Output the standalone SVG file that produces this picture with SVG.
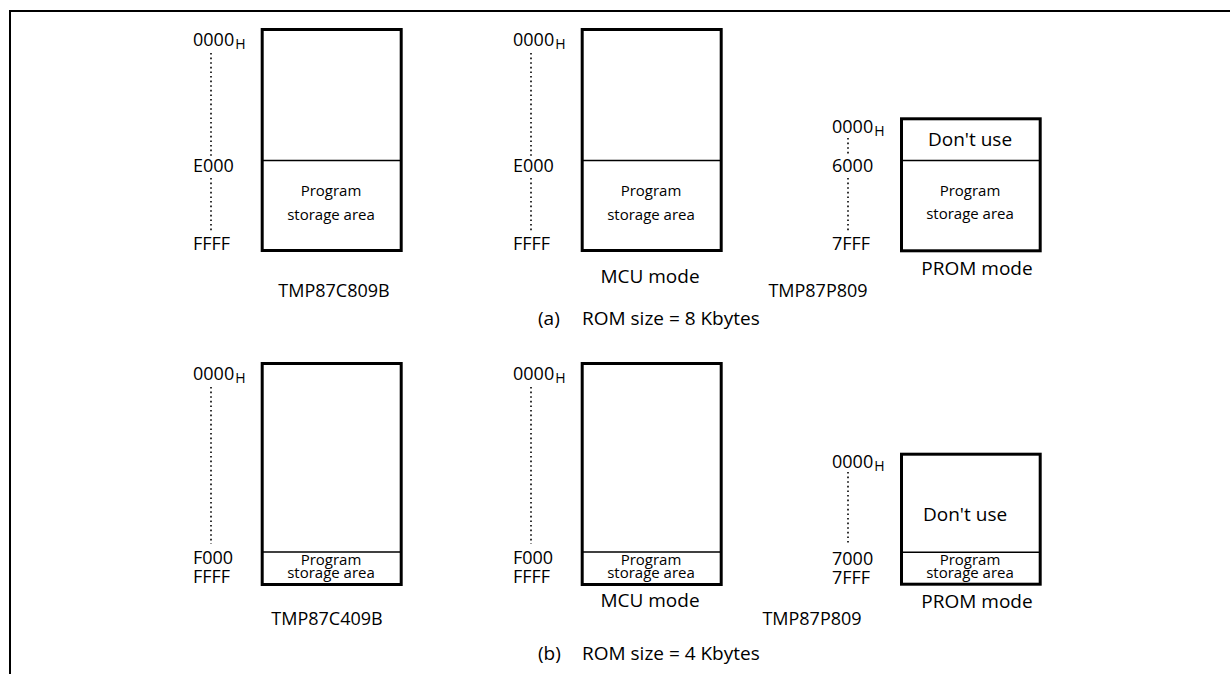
<svg xmlns="http://www.w3.org/2000/svg" width="1230" height="674" viewBox="0 0 1230 674">
<style>
text{font-family:"Open Sans","Noto Sans","DejaVu Sans",sans-serif;fill:#000}
.addr{font-size:18px}
.sub{font-size:14px}
.prog{font-size:15px;text-anchor:middle}
.name{font-size:18px}
.mode{font-size:19px;text-anchor:middle}
.dont{font-size:19px}
.cap{font-size:19px}
.box{fill:#fff;stroke:#000;stroke-width:3}
.div{stroke:#000;stroke-width:1.5}
.dot{stroke:#000;stroke-width:1.6;stroke-dasharray:1.6 3}
.frame{stroke:#000;stroke-width:2;fill:none}
</style>
<rect width="1230" height="674" fill="#fff"/>
<g id="frame">
<path class="frame" d="M10,674 V11 H1230"/>
</g>
<g id="connectors">
<line class="dot" x1="211" y1="53" x2="211" y2="156"/>
<line class="dot" x1="211" y1="178" x2="211" y2="231"/>
<line class="dot" x1="531" y1="53" x2="531" y2="156"/>
<line class="dot" x1="531" y1="178" x2="531" y2="231"/>
<line class="dot" x1="848" y1="138" x2="848" y2="156"/>
<line class="dot" x1="848" y1="178" x2="848" y2="232"/>
<line class="dot" x1="211" y1="387" x2="211" y2="544"/>
<line class="dot" x1="531" y1="387" x2="531" y2="544"/>
<line class="dot" x1="848" y1="472" x2="848" y2="544"/>
</g>
<g id="tmp87c809b">
<rect class="box" x="262.2" y="29.5" width="139" height="221"/>
<line class="div" x1="262" y1="160.5" x2="401" y2="160.5"/>
<text class="addr" x="193" y="46">0000<tspan class="sub" dx="1" dy="3">H</tspan></text>
<text class="addr" x="193" y="172">E000</text>
<text class="addr" x="193" y="250">FFFF</text>
<text class="prog" x="331" y="196">Program</text>
<text class="prog" x="331" y="220">storage area</text>
<text class="name" x="334" y="297" text-anchor="middle">TMP87C809B</text>
</g>
<g id="mcu8">
<rect class="box" x="582.2" y="29.5" width="139" height="221"/>
<line class="div" x1="582" y1="160.5" x2="721" y2="160.5"/>
<text class="addr" x="513" y="46">0000<tspan class="sub" dx="1" dy="3">H</tspan></text>
<text class="addr" x="513" y="172">E000</text>
<text class="addr" x="513" y="250">FFFF</text>
<text class="prog" x="651" y="196">Program</text>
<text class="prog" x="651" y="220">storage area</text>
<text class="mode" x="650" y="283">MCU mode</text>
</g>
<g id="prom8">
<rect class="box" x="901.5" y="118.8" width="138.7" height="132"/>
<line class="div" x1="901" y1="160.5" x2="1040" y2="160.5"/>
<text class="addr" x="832" y="133">0000<tspan class="sub" dx="1" dy="3">H</tspan></text>
<text class="addr" x="832" y="172">6000</text>
<text class="addr" x="832" y="250">7FFF</text>
<text class="dont" x="970" y="145.5" text-anchor="middle">Don't use</text>
<text class="prog" x="970" y="196">Program</text>
<text class="prog" x="970" y="219">storage area</text>
<text class="mode" x="977" y="275">PROM mode</text>
<text class="name" x="818" y="297" text-anchor="middle">TMP87P809</text>
</g>
<g id="caption-a">
<text class="cap" x="538" y="325">(a)</text>
<text class="cap" x="582" y="325">ROM size = 8 Kbytes</text>
</g>
<g id="tmp87c409b">
<rect class="box" x="262.2" y="363.5" width="139" height="221"/>
<line class="div" x1="262" y1="552" x2="401" y2="552"/>
<text class="addr" x="193" y="380">0000<tspan class="sub" dx="1" dy="3">H</tspan></text>
<text class="addr" x="193" y="564">F000</text>
<text class="addr" x="193" y="583">FFFF</text>
<text class="prog" x="331" y="565">Program</text>
<text class="prog" x="331" y="578">storage area</text>
<text class="name" x="327" y="625" text-anchor="middle">TMP87C409B</text>
</g>
<g id="mcu4">
<rect class="box" x="582.2" y="363.5" width="139" height="221"/>
<line class="div" x1="582" y1="552" x2="721" y2="552"/>
<text class="addr" x="513" y="380">0000<tspan class="sub" dx="1" dy="3">H</tspan></text>
<text class="addr" x="513" y="564">F000</text>
<text class="addr" x="513" y="583">FFFF</text>
<text class="prog" x="651" y="565">Program</text>
<text class="prog" x="651" y="578">storage area</text>
<text class="mode" x="650" y="607">MCU mode</text>
</g>
<g id="prom4">
<rect class="box" x="901.5" y="454.2" width="138.7" height="130"/>
<line class="div" x1="901" y1="552.3" x2="1040" y2="552.3"/>
<text class="addr" x="832" y="468">0000<tspan class="sub" dx="1" dy="3">H</tspan></text>
<text class="addr" x="832" y="565">7000</text>
<text class="addr" x="832" y="584">7FFF</text>
<text class="dont" x="923" y="521">Don't use</text>
<text class="prog" x="970" y="565">Program</text>
<text class="prog" x="970" y="577.5">storage area</text>
<text class="mode" x="977" y="608">PROM mode</text>
<text class="name" x="812" y="625" text-anchor="middle">TMP87P809</text>
</g>
<g id="caption-b">
<text class="cap" x="538" y="660">(b)</text>
<text class="cap" x="582" y="660">ROM size = 4 Kbytes</text>
</g>
</svg>
